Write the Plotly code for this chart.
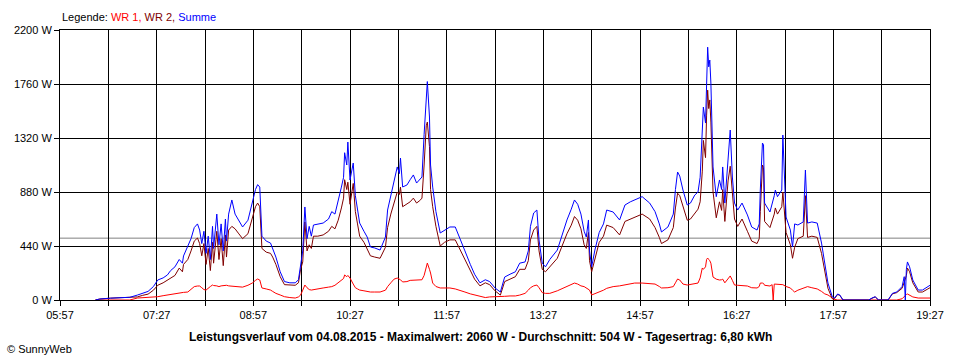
import plotly.graph_objects as go

DAY = "2015-08-04"

TIMES = [
    "06:30", "06:34", "06:44", "06:53", "07:02", "07:09", "07:14", "07:19", "07:24", "07:28",
    "07:33", "07:37", "07:40", "07:44", "07:48", "07:51", "07:52", "07:56", "07:59", "08:02",
    "08:05", "08:07", "08:09", "08:11", "08:13", "08:15", "08:17", "08:19", "08:20", "08:23",
    "08:25", "08:27", "08:29", "08:31", "08:32", "08:34", "08:37", "08:40", "08:43", "08:47",
    "08:52", "08:56", "08:59", "09:01", "09:03", "09:05", "09:09", "09:13", "09:15", "09:18",
    "09:22", "09:26", "09:31", "09:36", "09:39", "09:41", "09:43", "09:45", "09:47", "09:49",
    "09:51", "09:53", "09:57", "10:02", "10:07", "10:10", "10:13", "10:16", "10:19", "10:21",
    "10:22", "10:24", "10:25", "10:27", "10:30", "10:32", "10:34", "10:36", "10:40", "10:43",
    "10:46", "10:50", "10:55", "11:00", "11:02", "11:05", "11:08", "11:11", "11:13", "11:14",
    "11:16", "11:20", "11:23", "11:26", "11:29", "11:32", "11:34", "11:36", "11:38", "11:39",
    "11:41", "11:42", "11:44", "11:47", "11:51", "11:55", "12:00", "12:05", "12:09", "12:14",
    "12:19", "12:23", "12:28", "12:33", "12:37", "12:42", "12:47", "12:51", "12:56", "13:01",
    "13:05", "13:10", "13:13", "13:15", "13:18", "13:21", "13:23", "13:26", "13:29", "13:33",
    "13:40", "13:44", "13:49", "13:53", "13:56", "13:59", "14:02", "14:05", "14:07", "14:09",
    "14:10", "14:12", "14:15", "14:19", "14:23", "14:26", "14:32", "14:38", "14:43", "14:48",
    "14:52", "14:59", "15:06", "15:11", "15:15", "15:17", "15:23", "15:28", "15:30", "15:32",
    "15:34", "15:37", "15:41", "15:44", "15:48", "15:51", "15:53", "15:55", "15:56", "15:58",
    "15:59", "16:00", "16:01", "16:02", "16:03", "16:05", "16:08", "16:11", "16:13", "16:14",
    "16:16", "16:19", "16:21", "16:23", "16:25", "16:28", "16:32", "16:37", "16:41", "16:46",
    "16:48", "16:49", "16:51", "16:52", "16:53", "16:58", "17:00", "17:01", "17:02", "17:03",
    "17:05", "17:09", "17:10", "17:13", "17:17", "17:19", "17:21", "17:24", "17:29", "17:31",
    "17:33", "17:37", "17:42", "17:46", "17:49", "17:52", "17:56", "17:58", "18:01", "18:03",
    "18:06", "18:30", "18:33", "18:36", "18:39", "18:48", "18:52", "18:56", "19:01", "19:03",
    "19:04", "19:05", "19:06", "19:08", "19:11", "19:16", "19:20", "19:25", "19:27",
]

SUMME = [
    0, 8, 15, 18, 22, 40, 55, 70, 110, 163,
    180, 204, 240, 270, 330, 300, 359, 432, 500, 590,
    620, 570, 460, 560, 380, 520, 330, 600, 420, 700,
    450, 620, 400, 660, 480, 700, 815, 700, 650, 595,
    650, 800, 900, 940, 920, 520, 480, 464, 420, 350,
    230, 150, 140, 140, 165, 290, 400, 758, 500, 600,
    520, 611, 620, 627, 660, 720, 700, 800, 920, 1000,
    1200, 1100, 1287, 978, 1116, 850, 717, 627, 560, 513,
    432, 424, 407, 513, 733, 850, 980, 1084, 1030, 1157,
    921, 937, 980, 1019, 953, 980, 1002, 1350, 1711, 1780,
    1491, 1100, 920, 720, 546, 570, 595, 595, 513, 400,
    290, 210, 140, 165, 150, 98, 65, 187, 210, 230,
    300, 310, 400, 600, 709, 733, 489, 300, 270, 330,
    407, 520, 652, 740, 815, 780, 700, 560, 513, 652,
    400, 270, 407, 550, 620, 733, 717, 652, 774, 800,
    815, 842, 790, 720, 620, 554, 595, 700, 900, 1043,
    1010, 896, 774, 790, 855, 880, 1000, 1328, 1572, 1442,
    1900, 2060, 1900, 1955, 1768, 1084, 842, 978, 900, 1084,
    790, 1165, 1385, 1002, 790, 733, 790, 693, 595, 570,
    620, 896, 1279, 1263, 790, 717, 780, 800, 850, 896,
    842, 896, 1344, 676, 570, 432, 620, 611, 636, 1059,
    627, 636, 627, 464, 301, 138, 27, 16, 49, 41,
    0, 0, 16, 27, 0, 0, 54, 65, 109, 190,
    0, 250, 310, 270, 163, 81, 81, 109, 120,
]

WR1 = [
    0, 0, 0, 0, 0, 16, 18, 22, 25, 27,
    35, 41, 45, 54, 58, 60, 62, 65, 90, 109,
    114, 114, 100, 85, 81, 100, 110, 122, 118, 115,
    109, 115, 118, 122, 120, 115, 112, 110, 108, 105,
    120, 138, 160, 171, 163, 98, 90, 81, 70, 54,
    41, 27, 20, 16, 25, 40, 80, 122, 100, 85,
    81, 85, 90, 98, 105, 109, 120, 140, 163, 175,
    204, 190, 200, 179, 130, 100, 90, 81, 75, 70,
    65, 65, 65, 80, 109, 140, 170, 179, 170, 165,
    147, 150, 160, 163, 160, 163, 165, 200, 260, 301,
    250, 220, 138, 110, 98, 98, 98, 90, 81, 65,
    50, 40, 27, 20, 25, 25, 27, 30, 33, 33,
    40, 54, 80, 100, 115, 122, 100, 60, 54, 54,
    75, 90, 109, 125, 138, 130, 115, 109, 100, 85,
    81, 41, 50, 65, 80, 95, 109, 115, 122, 130,
    138, 138, 135, 130, 110, 98, 100, 109, 140, 171,
    163, 130, 122, 128, 135, 138, 180, 261, 250, 270,
    330, 342, 330, 320, 300, 187, 170, 163, 165, 170,
    140, 180, 196, 160, 122, 120, 118, 114, 100, 98,
    110, 138, 138, 135, 120, 114, 125, 0, 130, 130,
    130, 125, 125, 110, 98, 80, 65, 80, 98, 105,
    109, 100, 90, 70, 50, 41, 16, 5, 0, 0,
    0, 0, 0, 0, 0, 0, 0, 0, 10, 30,
    40, 45, 49, 40, 25, 16, 16, 16, 16,
]

WR2 = [
    0, 8, 15, 18, 20, 25, 38, 48, 80, 120,
    140, 163, 180, 200, 260, 230, 290, 330, 400, 480,
    505, 460, 360, 460, 290, 420, 240, 470, 300, 560,
    330, 500, 280, 530, 350, 570, 600, 580, 545, 500,
    540, 680, 760, 790, 760, 420, 390, 380, 350, 290,
    190, 125, 120, 120, 140, 250, 310, 636, 400, 450,
    420, 520, 520, 530, 560, 600, 580, 650, 750, 830,
    980, 900, 960, 780, 950, 720, 620, 520, 470, 420,
    360, 350, 340, 430, 590, 700, 800, 880, 860, 920,
    760, 780, 800, 830, 790, 810, 830, 1100, 1420, 1450,
    1250, 900, 760, 600, 440, 470, 490, 490, 420, 330,
    240, 170, 115, 140, 125, 75, 40, 150, 170, 190,
    250, 250, 320, 490, 570, 600, 400, 250, 230, 270,
    340, 430, 540, 610, 680, 650, 580, 450, 420, 550,
    320, 230, 340, 470, 520, 610, 590, 530, 640, 660,
    670, 700, 660, 590, 510, 460, 490, 590, 750, 870,
    850, 760, 650, 660, 710, 740, 800, 1050, 1300, 1160,
    1500, 1710, 1560, 1630, 1450, 880, 670, 800, 730, 900,
    640, 970, 1090, 830, 660, 600, 660, 560, 480, 460,
    500, 720, 1100, 1080, 640, 590, 640, 660, 700, 750,
    700, 760, 880, 550, 450, 340, 430, 500, 520, 850,
    510, 520, 510, 380, 240, 95, 10, 10, 45, 38,
    0, 0, 14, 25, 0, 0, 50, 60, 95, 160,
    170, 200, 260, 230, 140, 65, 65, 90, 100,
]

X_TICKS = ["05:57", "06:42", "07:27", "08:12", "08:57", "09:42", "10:27", "11:12", "11:57",
           "12:42", "13:27", "14:12", "14:57", "15:42", "16:27", "17:12", "17:57", "18:42", "19:27"]
X_LABELS = ["05:57", "", "07:27", "", "08:57", "", "10:27", "", "11:57",
            "", "13:27", "", "14:57", "", "16:27", "", "17:57", "", "19:27"]
Y_TICKS = [0, 440, 880, 1320, 1760, 2200]
Y_LABELS = ["0 W", "440 W", "880 W", "1320 W", "1760 W", "2200 W"]
AVERAGE = 504
TITLE = "Leistungsverlauf vom 04.08.2015 - Maximalwert: 2060 W - Durchschnitt: 504 W - Tagesertrag: 6,80 kWh"

FONT = "Liberation Sans"
x = [f"{DAY} {t}" for t in TIMES]

fig = go.Figure()
fig.add_trace(go.Scatter(x=x, y=WR1, mode="lines", name="WR 1",
                         line=dict(color="#FF0000", width=1)))
fig.add_trace(go.Scatter(x=x, y=WR2, mode="lines", name="WR 2",
                         line=dict(color="#800000", width=1)))
fig.add_trace(go.Scatter(x=x, y=SUMME, mode="lines", name="Summe",
                         line=dict(color="#0000FF", width=1)))

fig.add_shape(type="line", xref="paper", x0=0, x1=1, yref="y", y0=AVERAGE, y1=AVERAGE,
              line=dict(color="#808080", width=1), layer="below")

axis_common = dict(showgrid=True, gridcolor="#000000", gridwidth=1,
                   showline=True, linecolor="#000000", linewidth=1, mirror=True,
                   ticks="outside", ticklen=5, tickcolor="#000000", tickwidth=1,
                   zeroline=False, tickfont=dict(family=FONT, size=11, color="#000000"))

fig.update_layout(
    width=960, height=360,
    margin=dict(l=60, r=30, t=30, b=60),
    paper_bgcolor="#FFFFFF", plot_bgcolor="#FFFFFF",
    showlegend=False,
    font=dict(family=FONT, size=11, color="#000000"),
    xaxis=dict(type="date", range=[f"{DAY} {X_TICKS[0]}", f"{DAY} {X_TICKS[-1]}"],
               tickvals=[f"{DAY} {t}" for t in X_TICKS], ticktext=X_LABELS, **axis_common),
    yaxis=dict(range=[0, 2200], tickvals=Y_TICKS, ticktext=Y_LABELS, **axis_common),
    annotations=[
        dict(xref="paper", yref="paper", x=0, y=1.048, xanchor="left", yanchor="middle",
             showarrow=False, font=dict(family=FONT, size=11, color="#000000"),
             text="Legende: <span style='color:#FF0000'>WR 1,</span> "
                  "<span style='color:#800000'>WR 2,</span> "
                  "<span style='color:#0000FF'>Summe</span>"),
        dict(xref="paper", yref="paper", x=0.4828, y=-0.137, xanchor="center", yanchor="middle",
             showarrow=False, font=dict(family=FONT, size=12, color="#000000"),
             text=f"<b>{TITLE}</b>"),
        dict(xref="paper", yref="paper", x=-0.0632, y=-0.181, xanchor="left", yanchor="middle",
             showarrow=False, font=dict(family=FONT, size=11, color="#000000"),
             text="© SunnyWeb"),
    ],
)

fig.write_html("out.html", config={"displayModeBar": False},
               post_script="document.body.style.margin='0';document.body.style.overflow='hidden';")
